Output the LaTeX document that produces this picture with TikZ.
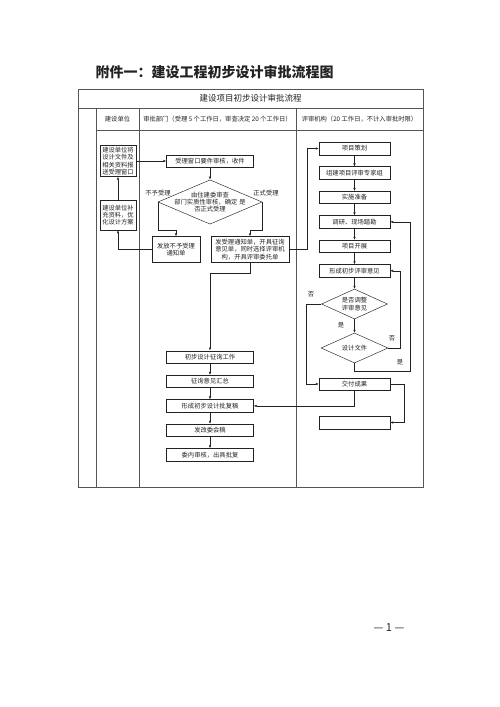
\documentclass[tikz,border=0pt]{standalone}
\usepackage{fontspec}
\setmainfont{Noto Sans CJK SC}
\usetikzlibrary{arrows.meta,positioning,shapes.geometric}
\definecolor{ink}{HTML}{222222}
\definecolor{rulegray}{HTML}{555555}

\begin{document}
\begin{tikzpicture}[
    x=1pt, y=-1pt,
    node distance=11.5pt,
    every node/.style={font=\fontsize{6.3}{7.4}\selectfont, text=ink},
    box/.style={rectangle, draw=ink, line width=0.45pt, minimum height=12.5pt, inner sep=1pt, align=center},
    midbox/.style={box, minimum width=87pt},
    revbox/.style={box, minimum width=71pt},
    decision/.style={diamond, draw=ink, line width=0.45pt, inner sep=0pt, aspect=3, align=center},
    tag/.style={font=\fontsize{6.3}{7}\selectfont},
    arr/.style={-{Latex[length=3pt, width=2.4pt]}, ink, line width=0.45pt}
  ]
  \useasboundingbox (0,0) rectangle (500,707);

  \node[font=\fontsize{14}{16}\selectfont\bfseries, anchor=west] (title) at (92,72) {附件一：建设工程初步设计审批流程图};

  % frame and columns
  \draw[rulegray, line width=0.6pt] (78,89) rectangle (423,487);
  \draw[rulegray, line width=0.6pt] (78,108) -- (423,108);
  \draw[rulegray, line width=0.6pt] (96,130) -- (423,130);
  \draw[rulegray, line width=0.6pt] (96,108) -- (96,487);
  \draw[rulegray, line width=0.6pt] (139,108) -- (139,487);
  \draw[rulegray, line width=0.6pt] (296,108) -- (296,487);

  \node[font=\fontsize{8.5}{10}\selectfont] (head) at (250.5,98.5) {建设项目初步设计审批流程};
  \node (colA) at (117.5,119) {建设单位};
  \node (colB) at (217.5,119) {审批部门（受理 5 个工作日，审查决定 20 个工作日）};
  \node (colC) at (359.5,119) {评审机构（20 工作日，不计入审批时限）};

  % 建设单位
  \node[box, minimum width=36pt, minimum height=31pt] (send) at (118,161) {建设单位将\\设计文件及\\相关资料报\\送受理窗口};
  \node[box, minimum width=36pt, minimum height=30pt] (supply) at (118,215) {建设单位补\\充资料，优\\化设计方案};

  % 审批部门
  \node[midbox] (accept) at (210,161) {受理窗口要件审核，收件};
  \node[decision, aspect=2, inner xsep=-12pt, minimum width=104pt, minimum height=44pt] (check) at (210,202)
    {由住建委审查\\部门实质性审核，确定\hspace{2pt}是\\否正式受理};
  \node[box, minimum width=48pt, minimum height=26pt] (refuse) at (176,249.5) {发放不予受理\\通知单};
  \node[box, minimum width=78pt, minimum height=26pt] (notify) at (250,249.5) {发受理通知单，开具征询\\意见单，同时选择评审机\\构，开具评审委托单};
  \node[tag] (nolbl) at (158,193) {不予受理};
  \node[tag] (yeslbl) at (266,193) {正式受理};

  \node[midbox] (consult) at (210,357) {初步设计征询工作};
  \node[midbox, below=of consult] (summary) {征询意见汇总};
  \node[midbox, below=of summary] (draft) {形成初步设计批复稿};
  \node[midbox, below=of draft] (cosign) {发改委会稿};
  \node[midbox, below=of cosign] (approve) {委内审核，出具批复};

  % 评审机构
  \node[revbox] (plan) at (354.5,148.5) {项目策划};
  \node[revbox, below=of plan] (team) {组建项目评审专家组};
  \node[revbox, below=of team] (prep) {实施准备};
  \node[revbox, below=of prep] (survey) {调研、现场踏勘};
  \node[revbox, below=of survey] (launch) {项目开展};
  \node[revbox, below=of launch] (form) {形成初步评审意见};
  \node[decision, minimum width=66pt, minimum height=30pt] (adjust) at (354.5,304) {是否调整\\评审意见};
  \node[decision, minimum width=67pt, minimum height=30pt] (design) at (354.5,348) {设计文件};
  \node[revbox] (deliver) at (354.5,384) {交付成果};
  \node[revbox] (blank) at (354.5,422.5) {};
  \node[tag] (adjno) at (311,294) {否};
  \node[tag] (adjyes) at (341,325) {是};
  \node[tag] (desno) at (392,338) {否};
  \node[tag] (desyes) at (400,362) {是};

  \draw[arr] (supply) -- (send);
  \draw[arr] (send) -- (accept);
  \draw[arr] (accept) -- (check);
  \draw[arr] (check.west) -- ++(0,28) -| (refuse.north);
  \draw[arr] (check.east) -- ++(0,28) -| (notify.north);
  \draw[arr] (refuse.west) -| (supply.south);
  \draw[arr] (notify.east) -- ++(18,0) |- (plan.west);
  \draw[arr] (notify.south) -- ++(0,10) -| (consult.north);
  \foreach \a/\b in {consult/summary, summary/draft, draft/cosign, cosign/approve,
                     plan/team, team/prep, prep/survey, survey/launch, launch/form,
                     form/adjust, adjust/design}
    \draw[arr] (\a) -- (\b);
  \draw[arr] (adjust.west) -- ++(-15,0) |- (deliver.west);
  \draw[arr] (design.east) -- ++(12,0) |- (form.east);
  \draw[arr] (design.south) |- (410,371) |- (survey.east);
  \draw[arr] (deliver.south) |- (draft.east);
  \draw[arr] (deliver.east) -- ++(14,0) |- (blank.east);

  \node[font=\fontsize{11}{13}\selectfont] (pageno) at (389,628) {— 1 —};
\end{tikzpicture}
\end{document}
